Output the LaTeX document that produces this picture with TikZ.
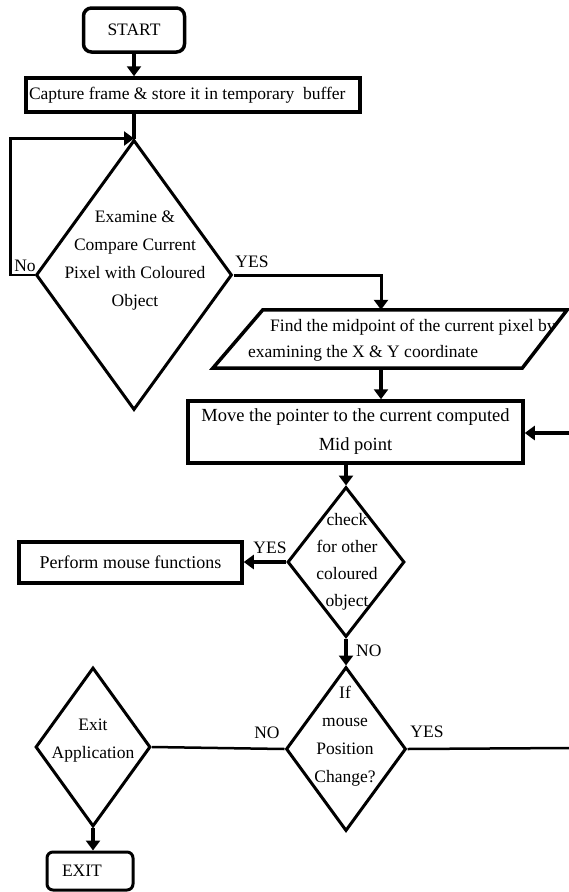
\documentclass[tikz,border=0pt]{standalone}
\usepackage{fontspec}
\setmainfont{Liberation Serif}
\usetikzlibrary{arrows.meta,shapes.geometric}
\begin{document}
\begin{tikzpicture}[x=1pt,y=-1pt,
  font=\fontsize{17.5}{26}\selectfont,
  box/.style={draw,line width=3.5pt,inner sep=0pt},
  dia/.style={draw,diamond,line width=3pt,inner sep=0pt},
  txt/.style={inner sep=0pt,align=center},
  dtxt/.style={inner sep=0pt,align=center,font=\fontsize{17.5}{28}\selectfont},
  arr/.style={line width=3.5pt,-{Triangle[length=10pt,width=14pt]}},
  ln/.style={line width=2.5pt},
]
\useasboundingbox (0,0) rectangle (569,892);

% nodes
\node[box,rounded corners=8pt,minimum width=101pt,minimum height=44pt] (start) at (134,30) {START};
\node[box,minimum width=334pt,minimum height=34pt] (cap) at (193,95) {\makebox[328pt][l]{Capture frame \& store it in temporary\ \ buffer}};

\node[dia,minimum width=196pt,minimum height=270pt] (d1) at (134,275) {};
\node[dtxt] (d1t) at (135,261) {Examine \&\\Compare Current\\Pixel with Coloured\\Object};

\node[minimum width=354pt,minimum height=58pt,inner sep=0pt] (find) at (390,339) {};
\draw[line width=3.5pt,line join=miter] ([xshift=50pt]find.north west) -- (find.north east) -- ([xshift=-45pt]find.south east) -- (find.south west) -- cycle;
\node[txt,align=left,anchor=west] (findt) at (248,340) {\hspace{22pt}Find the midpoint of the current pixel by\\examining the X \& Y coordinate};

\node[box,minimum width=335pt,minimum height=62pt,align=center,font=\fontsize{18.5}{29}\selectfont] (move) at (355.5,432) {Move the pointer to the current computed\\Mid point};

\node[dia,minimum width=117pt,minimum height=150pt] (d2) at (346,562) {};
\node[dtxt,font=\fontsize{17.5}{27}\selectfont] (d2t) at (347,562) {check\\for other\\coloured\\object};

\node[box,minimum width=223pt,minimum height=41pt,font=\fontsize{18}{26}\selectfont] (perf) at (130.5,562.5) {Perform mouse functions};

\node[dia,minimum width=120pt,minimum height=164pt] (d3) at (346,749) {};
\node[dtxt] (d3t) at (345,736) {If\\mouse\\Position\\Change?};

\node[dia,minimum width=115pt,minimum height=159pt] (ex) at (93,747) {};
\node[dtxt] (ext) at (93,741) {Exit\\Application};

\node[box,line width=3pt,rounded corners=6pt,minimum width=86pt,minimum height=38pt,text width=56pt,align=left] (exit) at (90,871) {EXIT};

\coordinate (re1) at (569,433);
\coordinate (re2) at (569,748);

% connectors
\draw[arr] (start.south) -- (start.south |- cap.north);
\draw[line width=3.5pt] (cap.south -| d1.north) -- (d1.north);
\draw[arr,line width=2.5pt] (d1.west) -- ++(-24,0) |- (d1.north);
\draw[arr,line width=3pt] (d1.east) -| ([xshift=-9pt]find.north);
\draw[arr] ([xshift=-9pt]find.south) -- ([xshift=-9pt]find.south |- move.north);
\draw[arr] (re1) -- (move.east |- re1);
\draw[arr] (move.south -| d2.north) -- (d2.north);
\draw[arr] (d2.west) -- (d2.west -| perf.east);
\draw[arr] (d2.south) -- (d3.north);
\draw[ln] (d3.west) -- (ex.east);
\draw[ln] (d3.east) -- (re2);
\draw[arr] (ex.south) -- (ex.south |- exit.north);

% labels
\node[txt] (lno1) at (25,266) {No};
\node[txt] (lyes1) at (252,262) {YES};
\node[txt] (lyes2) at (270,548) {YES};
\node[txt,anchor=west] (lno2) at (356,651) {NO};
\node[txt] (lno3) at (267,733) {NO};
\node[txt] (lyes3) at (427,732) {YES};
\end{tikzpicture}
\end{document}
